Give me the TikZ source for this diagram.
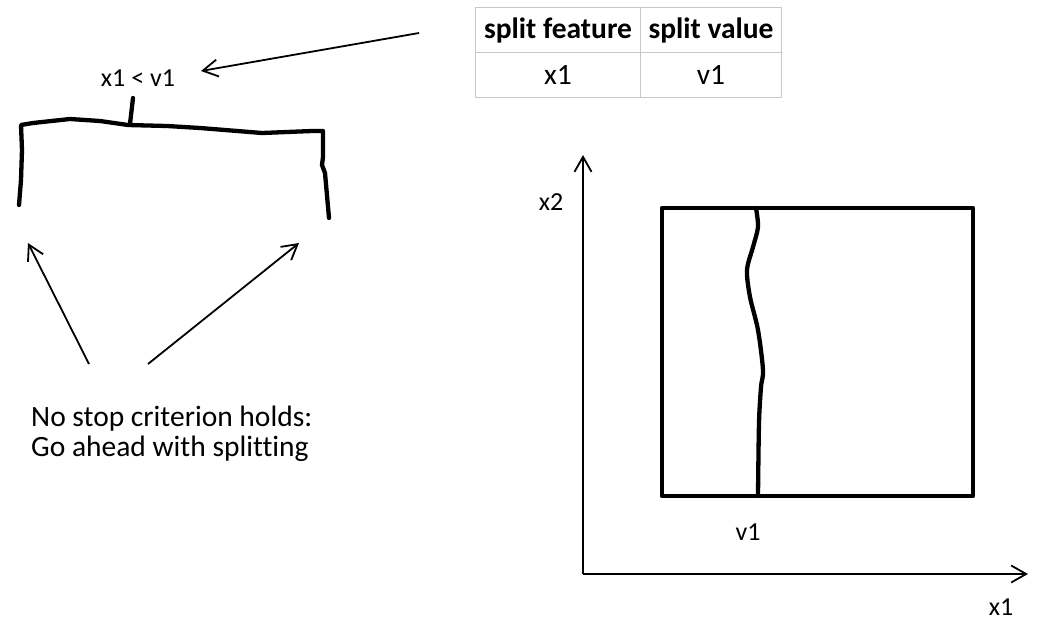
\documentclass[tikz,border=0pt]{standalone}
\usepackage{fontspec}
\setmainfont{Carlito}[Ligatures=NoCommon]
\usetikzlibrary{arrows.meta}

\begin{document}
\begin{tikzpicture}[x=1pt,y=-1pt,
    pen/.style={line width=4.3pt, line cap=round, line join=round},
    arr/.style={line width=1.8pt, -{Straight Barb[length=15pt,width=17pt,line width=1.8pt]}},
    lbl/.style={font=\fontsize{26}{30}\selectfont, inner sep=0pt},
    cell/.style={font=\fontsize{29.5}{34}\selectfont, inner sep=0pt}]
        \useasboundingbox (0,0) rectangle (1039,627);
        % table
        \draw[draw=black!22, line width=1pt] (475,7) rectangle (781,97);
        \draw[draw=black!22, line width=1pt] (475,52) -- (781,52) (640,7) -- (640,97);
        \node[cell] (T1) at (558,30) {\textbf{split feature}};
        \node[cell] (T2) at (711,30) {\textbf{split value}};
        \node[cell] (T3) at (558,75) {x1};
        \node[cell] (T4) at (711,75) {v1};
        % tree
        \node[lbl] (C) at (138,78) {x1 < v1};
        \draw[pen] (19,205) -- (21,180) -- (22,150) -- (21,125) -- (33,123) -- (70,119)
              -- (100,121) -- (128,125) -- (167,126) -- (200,128) -- (262,133)
              -- (312,131) -- (323,131) -- (323,157) -- (322,165) -- (325,173) -- (329,218);
        \draw[pen] (133,98) -- (130,124);
        \coordinate (P1) at (419,33);
        \coordinate (P2) at (201,71);
        \draw[arr] (P1) -- (P2);
        \node[anchor=west, inner sep=0pt, align=left, font=\fontsize{29.5}{30}\selectfont] (N) at (31,434)
              {No stop criterion holds:\\Go ahead with splitting};
        \coordinate (L1) at (89,364);
        \coordinate (L2) at (28,243);
        \coordinate (R1) at (148,364);
        \coordinate (R2) at (299,243);
        \draw[arr] (L1) -- (L2);
        \draw[arr] (R1) -- (R2);
        % axes
        \coordinate (O) at (583,574);
        \coordinate (X) at (1028,574);
        \coordinate (Y) at (583,155);
        \draw[arr] (O) -- (X);
        \draw[arr] (O) -- (Y);
        \node[lbl] (G1) at (551,202) {x2};
        \node[lbl] (G2) at (748,532) {v1};
        \node[lbl] (G3) at (1001,607) {x1};
        % region
        \draw[pen, line cap=butt] (662,208) rectangle (973,496);
        \draw[pen] plot[smooth] coordinates {(756,208) (758,227) (753,247) (747,270) (750,297)
              (758,330) (763,370) (761,387) (759,423) (758,496)};
\end{tikzpicture}
\end{document}
